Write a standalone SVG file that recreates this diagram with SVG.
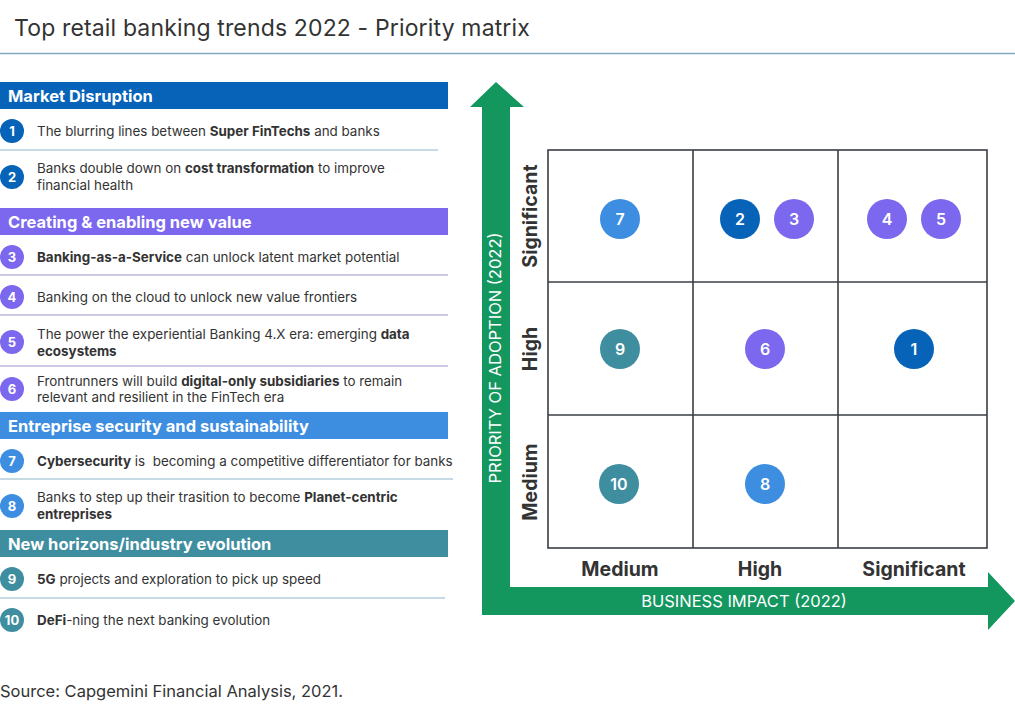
<svg xmlns="http://www.w3.org/2000/svg" width="1015" height="704" viewBox="0 0 1015 704">
<style>
text{font-family:Inter,"Liberation Sans",sans-serif}
.title{font-size:23px;letter-spacing:0.15px;fill:#333}
.hdr{font-size:16.5px;font-weight:700;fill:#fff}
.it{font-size:13.4px;fill:#333}
.it tspan.b{font-weight:700}
.num{font-size:13px;font-weight:700;fill:#fff;text-anchor:middle}
.bn{font-size:16px;font-weight:600;fill:#fff;text-anchor:middle}
.sep{stroke-width:1.2}
.lab{font-size:19.5px;font-weight:700;fill:#333;text-anchor:middle}
.ax{font-size:16.5px;fill:#fff;text-anchor:middle}
.grid{fill:none;stroke:#3a3f44;stroke-width:1.6}
.c1{fill:#0663b8}.c3{fill:#7b68ee}.c7{fill:#3d8ee0}.c9{fill:#3f8ea0}
</style>
<rect width="1015" height="704" fill="#fff"/>
<text class="title" x="14" y="36">Top retail banking trends 2022 - Priority matrix</text>
<line x1="0" y1="53.5" x2="1015" y2="53.5" stroke="#7fa9c3" stroke-width="1.5"/>

<g id="legend">
  <rect x="0" y="82" width="448" height="27" class="c1"/>
  <text class="hdr" x="8" y="101.5">Market Disruption</text>
  <g id="item1"><circle cx="12" cy="131" r="12" class="c1"/><text class="num" x="12" y="135.5">1</text>
    <text class="it" x="37" y="136">The blurring lines between <tspan class="b">Super FinTechs</tspan> and banks</text></g>
  <line class="sep" x1="0" y1="150" x2="438" y2="150" stroke="#8fb4c9"/>
  <g id="item2"><circle cx="12" cy="177" r="12" class="c1"/><text class="num" x="12" y="181.5">2</text>
    <text class="it" x="37" y="173">Banks double down on <tspan class="b">cost transformation</tspan> to improve</text>
    <text class="it" x="37" y="189.5">financial health</text></g>

  <rect x="0" y="208" width="448" height="27" class="c3"/>
  <text class="hdr" x="8" y="227.5">Creating &amp; enabling new value</text>
  <g id="item3"><circle cx="12" cy="257" r="12" class="c3"/><text class="num" x="12" y="261.5">3</text>
    <text class="it" x="37" y="262"><tspan class="b">Banking-as-a-Service</tspan> can unlock latent market potential</text></g>
  <line class="sep" x1="0" y1="275" x2="448" y2="275" stroke="#9b93c9"/>
  <g id="item4"><circle cx="12" cy="297" r="12" class="c3"/><text class="num" x="12" y="301.5">4</text>
    <text class="it" x="37" y="302">Banking on the cloud to unlock new value frontiers</text></g>
  <line class="sep" x1="0" y1="315" x2="448" y2="315" stroke="#9b93c9"/>
  <g id="item5"><circle cx="12" cy="342" r="12" class="c3"/><text class="num" x="12" y="346.5">5</text>
    <text class="it" x="37" y="339">The power the experiential Banking 4.X era: emerging <tspan class="b">data</tspan></text>
    <text class="it" x="37" y="355.5"><tspan class="b">ecosystems</tspan></text></g>
  <line class="sep" x1="0" y1="366" x2="448" y2="366" stroke="#9b93c9"/>
  <g id="item6"><circle cx="12" cy="389" r="12" class="c3"/><text class="num" x="12" y="393.5">6</text>
    <text class="it" x="37" y="385.5">Frontrunners will build <tspan class="b">digital-only subsidiaries</tspan> to remain</text>
    <text class="it" x="37" y="402">relevant and resilient in the FinTech era</text></g>

  <rect x="0" y="412" width="448" height="27" class="c7"/>
  <text class="hdr" x="8" y="431.5">Entreprise security and sustainability</text>
  <g id="item7"><circle cx="12" cy="461" r="12" class="c7"/><text class="num" x="12" y="465.5">7</text>
    <text class="it" x="37" y="466"><tspan class="b">Cybersecurity</tspan> is&#160; becoming a competitive differentiator for banks</text></g>
  <line class="sep" x1="0" y1="479" x2="453" y2="479" stroke="#8fb4c9"/>
  <g id="item8"><circle cx="12" cy="506" r="12" class="c7"/><text class="num" x="12" y="510.5">8</text>
    <text class="it" x="37" y="502">Banks to step up their trasition to become <tspan class="b">Planet-centric</tspan></text>
    <text class="it" x="37" y="518.5"><tspan class="b">entreprises</tspan></text></g>

  <rect x="0" y="530" width="448" height="27" class="c9"/>
  <text class="hdr" x="8" y="549.5">New horizons/industry evolution</text>
  <g id="item9"><circle cx="12" cy="579" r="12" class="c9"/><text class="num" x="12" y="583.5">9</text>
    <text class="it" x="37" y="584"><tspan class="b">5G</tspan> projects and exploration to pick up speed</text></g>
  <line class="sep" x1="0" y1="598" x2="445" y2="598" stroke="#8fb4c9"/>
  <g id="item10"><circle cx="12" cy="620" r="12" class="c9"/><text class="num" x="12" y="624.5">10</text>
    <text class="it" x="37" y="625"><tspan class="b">DeFi</tspan>-ning the next banking evolution</text></g>
</g>

<g id="axes">
  <polygon points="482,615 482,107 470,107 496,82 524,107 510,107 510,587 988,587 988,572 1015,601 988,630 988,615" fill="#14965f"/>
  <text class="ax" transform="translate(501,358) rotate(-90)">PRIORITY OF ADOPTION (2022)</text>
  <text class="ax" x="744" y="607">BUSINESS IMPACT (2022)</text>
</g>

<g id="matrix">
  <rect class="grid" x="548" y="150" width="439" height="398"/>
  <line class="grid" x1="693" y1="150" x2="693" y2="548"/>
  <line class="grid" x1="838" y1="150" x2="838" y2="548"/>
  <line class="grid" x1="548" y1="282" x2="987" y2="282"/>
  <line class="grid" x1="548" y1="415" x2="987" y2="415"/>
  <text class="lab" transform="translate(537,216) rotate(-90)">Significant</text>
  <text class="lab" transform="translate(537,349) rotate(-90)">High</text>
  <text class="lab" transform="translate(537,482) rotate(-90)">Medium</text>
  <text class="lab" x="620" y="576">Medium</text>
  <text class="lab" x="760" y="576">High</text>
  <text class="lab" x="914" y="576">Significant</text>
</g>

<g id="bubble7"><circle cx="620" cy="219" r="20" class="c7"/><text class="bn" x="620" y="225">7</text></g>
<g id="bubble2"><circle cx="740" cy="219" r="20" class="c1"/><text class="bn" x="740" y="225">2</text></g>
<g id="bubble3"><circle cx="794" cy="219" r="20" class="c3"/><text class="bn" x="794" y="225">3</text></g>
<g id="bubble4"><circle cx="887" cy="219" r="20" class="c3"/><text class="bn" x="887" y="225">4</text></g>
<g id="bubble5"><circle cx="941" cy="219" r="20" class="c3"/><text class="bn" x="941" y="225">5</text></g>
<g id="bubble9"><circle cx="620" cy="349" r="20" class="c9"/><text class="bn" x="620" y="355">9</text></g>
<g id="bubble6"><circle cx="765" cy="349" r="20" class="c3"/><text class="bn" x="765" y="355">6</text></g>
<g id="bubble1"><circle cx="914" cy="349" r="20" class="c1"/><text class="bn" x="914" y="355">1</text></g>
<g id="bubble10"><circle cx="619" cy="484" r="20" class="c9"/><text class="bn" x="619" y="490">10</text></g>
<g id="bubble8"><circle cx="765" cy="484" r="20" class="c7"/><text class="bn" x="765" y="490">8</text></g>

<text x="0" y="697" font-size="16.5" fill="#333">Source: Capgemini Financial Analysis, 2021.</text>
</svg>
